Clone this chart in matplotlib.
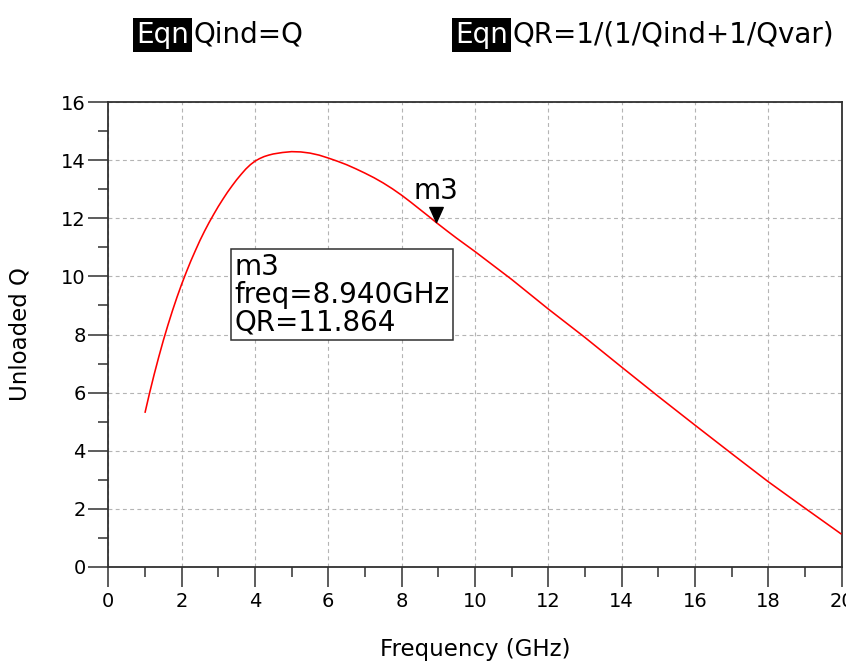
import matplotlib
matplotlib.use("Agg")
import matplotlib.pyplot as plt
from matplotlib.path import Path
from matplotlib.ticker import MultipleLocator

# ---- data ----
freq_ghz = [1.0, 1.125, 1.25, 1.375, 1.5, 1.625, 1.75, 1.875, 2.0, 2.125, 2.25, 2.375,
            2.5, 2.625, 2.75, 2.875, 3.0, 3.125, 3.25, 3.375, 3.5, 3.625, 3.75, 3.875,
            4.0, 4.125, 4.25, 4.375, 4.5, 4.75, 5.0, 5.25, 5.5, 5.75, 6.0, 6.25, 6.5, 6.75,
            7.0, 7.25, 7.5, 7.75, 8.0, 8.25, 8.5, 8.75, 8.94, 9.25, 9.5, 10.0,
            11.0, 12.0, 13.0, 14.0, 15.0, 16.0, 17.0, 18.0, 19.0, 20.0]
qr_values = [5.30, 5.98, 6.62, 7.22, 7.79, 8.32, 8.82, 9.29, 9.73, 10.14, 10.53, 10.89,
             11.24, 11.56, 11.86, 12.14, 12.41, 12.66, 12.90, 13.12, 13.33, 13.52, 13.70, 13.85,
             13.97, 14.06, 14.13, 14.18, 14.22, 14.27, 14.30, 14.29, 14.25, 14.18, 14.08, 13.97,
             13.85, 13.71, 13.56, 13.40, 13.22, 13.02, 12.80, 12.56, 12.31, 12.06, 11.864, 11.56,
             11.32, 10.86, 9.90, 8.88, 7.90, 6.88, 5.87, 4.88, 3.90, 2.93, 2.02, 1.12]
marker_name = "m3"
marker_freq = 8.940
marker_qr = 11.864
eqn_texts = ["Qind=Q", "QR=1/(1/Qind+1/Qvar)"]
x_label = "Frequency (GHz)"
y_label = "Unloaded Q"

W, H = 846, 671
fig = plt.figure(figsize=(W / 100, H / 100), dpi=100)
ax_l, ax_r, ax_t, ax_b = 108.3, 841.5, 102.3, 566.7
ax = fig.add_axes([ax_l / W, 1 - ax_b / H, (ax_r - ax_l) / W, (ax_b - ax_t) / H])

ax.plot(freq_ghz, qr_values, color="#ff0000", lw=1.15, zorder=3,
        solid_joinstyle="round", solid_capstyle="butt")
ax.set_xlim(0, 20)
ax.set_ylim(0, 16)
ax.xaxis.set_major_locator(MultipleLocator(2))
ax.xaxis.set_minor_locator(MultipleLocator(1))
ax.yaxis.set_major_locator(MultipleLocator(2))
ax.yaxis.set_minor_locator(MultipleLocator(1))
ax.tick_params(which="major", direction="out", length=14.4, width=1.1, color="#303030",
               labelsize=14, labelcolor="black")
ax.tick_params(axis="x", which="major", pad=4.0)
ax.tick_params(axis="y", which="major", pad=2.0)
ax.tick_params(which="minor", direction="out", length=7.2, width=1.1, color="#303030")
ax.grid(which="major", color="#b4b4b4", ls=(0, (3.5, 3.0)), lw=0.8, zorder=0)
for s in ax.spines.values():
    s.set_color("#303030")
    s.set_linewidth(1.3)

ax.set_xlabel(x_label, fontsize=16.5)
ax.set_ylabel(y_label, fontsize=16.5)
ax.xaxis.set_label_coords(0.5, (ax_b - 638.0) / (ax_b - ax_t))
ax.yaxis.set_label_coords((32.0 - ax_l) / (ax_r - ax_l), 0.5)

# marker: downward triangle with its tip on the data point
tri = Path([(0, 0), (-0.45, 1.0), (0.45, 1.0), (0, 0)],
           [Path.MOVETO, Path.LINETO, Path.LINETO, Path.CLOSEPOLY])
ax.plot([marker_freq], [marker_qr], marker=tri, markersize=21.6, color="black",
        ls="none", zorder=4)
ax.annotate(marker_name, (marker_freq, marker_qr), xytext=(0, 17), textcoords="offset pixels",
            ha="center", va="bottom", fontsize=20, zorder=5)

# marker readout box
readout = f"{marker_name}\nfreq={marker_freq:.3f}GHz\nQR={marker_qr:.3f}"
fig.text(234.5 / W, 1 - 252.5 / H, readout, ha="left", va="top", fontsize=20,
         linespacing=1.0,
         bbox=dict(boxstyle="square,pad=0.13", fc="white", ec="#303030", lw=1.1))

# equation labels at top
yc = 1 - 35 / H
for (xe, xt), txt in zip([(136, 193), (455, 512)], eqn_texts):
    fig.text(xe / W, yc, "Eqn", color="white", ha="left", va="center", fontsize=20,
             bbox=dict(boxstyle="square,pad=0.12", fc="black", ec="none"))
    fig.text(xt / W, yc, txt, color="black", ha="left", va="center", fontsize=20)

fig.savefig("out.png", dpi=100)
